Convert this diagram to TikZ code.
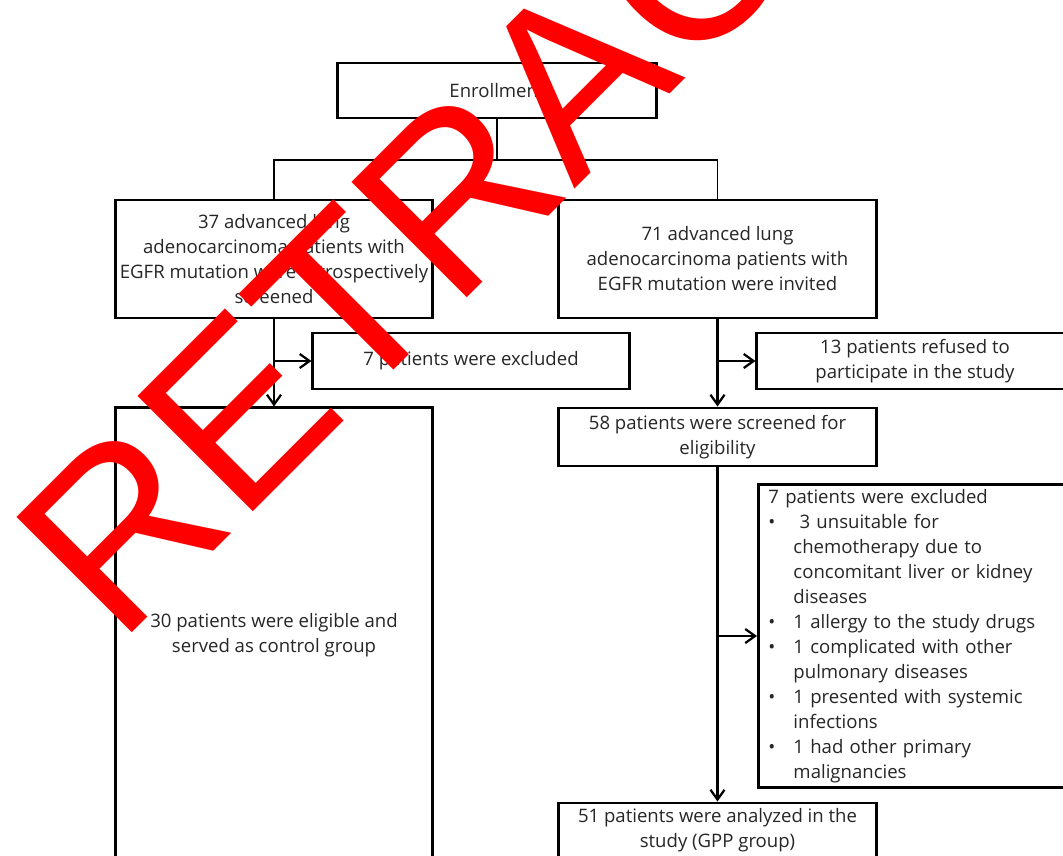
\documentclass[tikz,border=0pt]{standalone}
\usepackage{fontspec}
\setmainfont{Open Sans}
\newfontfamily\stampfont{Liberation Sans}
\usetikzlibrary{arrows.meta,positioning,calc}

\newcommand{\exitem}{\makebox[0.625cm][l]{\textbullet}}
\newcommand{\exind}{\hspace*{0.625cm}}

\begin{document}
\begin{tikzpicture}[x=0.025cm, y=-0.025cm,
        box/.style={draw, line width=2.1pt, align=center, text=black!85, inner sep=0pt, font=\fontsize{13.2}{17.8}\selectfont},
        arrow/.style={-{Straight Barb[length=7pt,width=10pt]}, line width=1.6pt},
        link/.style={line width=1.3pt}
    ]
        \useasboundingbox (0,0) rectangle (1063,855);
        \clip (0,0) rectangle (1063,855);
        \fill[white] (0,0) rectangle (1063,855);

        \node[box, minimum width=7.95cm, minimum height=1.375cm] (enroll) at (497,90.5) {Enrollment};
        \node[box, minimum width=7.925cm, minimum height=2.95cm] (screened) at (274,259) {37 advanced lung\\adenocarcinoma patients with\\EGFR mutation were retrospectively\\screened};
        \node[box, minimum width=7.925cm, minimum height=2.95cm] (invited) at (717.5,259) {71 advanced lung\\adenocarcinoma patients with\\EGFR mutation were invited};

        \node[box, minimum width=7.9cm, minimum height=1.4cm] (exclA) at (471,361) {7 patients were excluded};
        \node[box, minimum width=7.925cm, minimum height=11.35cm] (control) at (274,635) {30 patients were eligible and\\served as control group};

        \node[box, minimum width=7.9cm, minimum height=1.4cm] (refused) at (915,361) {13 patients refused to\\participate in the study};
        \node[box, minimum width=7.925cm, minimum height=1.45cm] (eligible) at (717.5,437) {58 patients were screened for\\eligibility};
        \node[box, anchor=north west, align=left, minimum width=7.9cm, minimum height=7.575cm, text width=7.4cm, inner xsep=0.25cm] (exclB) at (757,483) {7 patients were excluded\\
            \exitem\ 3 unsuitable for\\
            \exind chemotherapy due to\\
            \exind concomitant liver or kidney\\
            \exind diseases\\
            \exitem 1 allergy to the study drugs\\
            \exitem 1 complicated with other\\
            \exind pulmonary diseases\\
            \exitem 1 presented with systemic\\
            \exind infections\\
            \exitem 1 had other primary\\
            \exind malignancies};
        \node[box, minimum width=7.925cm, minimum height=1.375cm] (gpp) at (717.5,830.5) {51 patients were analyzed in the\\study (GPP group)};

        \coordinate (split) at (497,160);
        \draw[link] (enroll) -- (split);
        \draw[link] (screened.north) |- (split) -| (invited.north);

        \coordinate (brA) at (screened.south |- exclA.west);
        \draw[arrow] (screened) -- (control);
        \draw[arrow] (brA) -- (exclA);

        \coordinate (brB) at (invited.south |- refused.west);
        \draw[arrow] (invited) -- (eligible);
        \draw[arrow] (brB) -- (refused);

        \coordinate (brC) at (eligible.south |- exclB.west);
        \draw[arrow] (eligible) -- (gpp);
        \draw[arrow] (brC) -- (exclB.west);

        \node[anchor=base west, inner sep=0pt, rotate=45, text=red, font=\stampfont\fontsize{168.6}{170}\selectfont] (stamp) at (117.8,646.5) {RETRACTED};
    \end{tikzpicture}
\end{document}
